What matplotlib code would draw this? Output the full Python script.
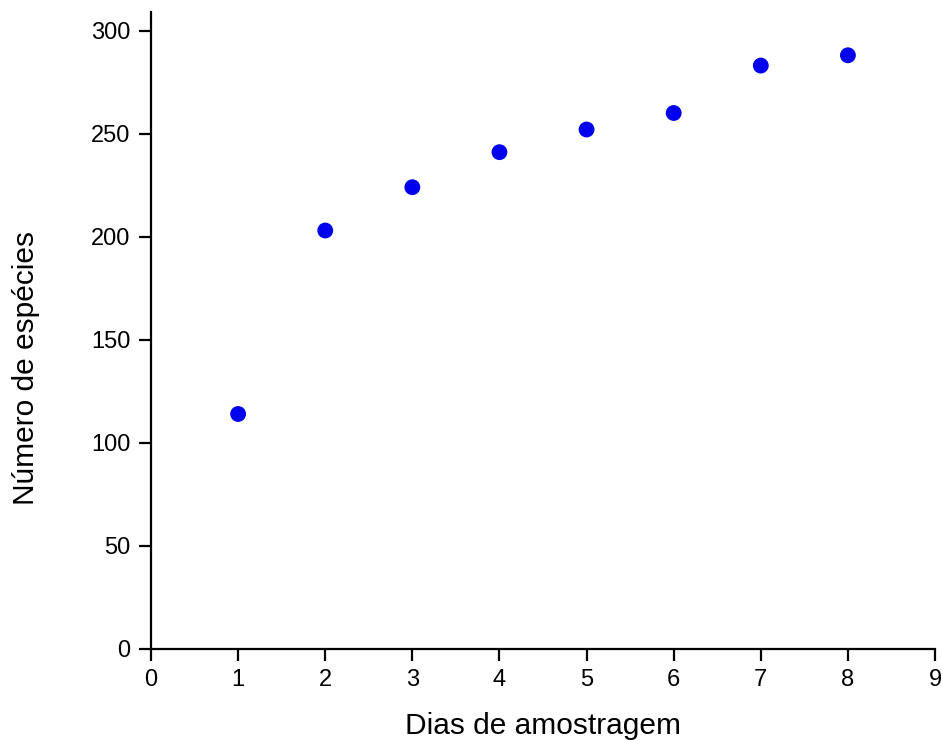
import matplotlib
matplotlib.use("Agg")
import matplotlib.pyplot as plt

dias = [1, 2, 3, 4, 5, 6, 7, 8]
especies = [114, 203, 224, 241, 252, 260, 283, 288]
xticks = [0, 1, 2, 3, 4, 5, 6, 7, 8, 9]
yticks = [0, 50, 100, 150, 200, 250, 300]

plt.rcParams['font.family'] = ['Liberation Sans', 'DejaVu Sans']

fig = plt.figure(figsize=(9.42, 7.40), dpi=100)
ax = fig.add_axes([0.1603, 0.123, 0.8323, 0.8608])
ax.scatter(dias, especies, s=130, color='#0000ee', edgecolors='none', zorder=3, clip_on=False)
ax.set_xlim(0, 9)
ax.set_ylim(0, 309)
ax.set_xticks(xticks)
ax.set_yticks(yticks)
ax.tick_params(direction='out', length=8.5, width=1.6, labelsize=17)
ax.tick_params(axis='y', pad=6.5)
ax.tick_params(axis='x', pad=6)
for s in ['top', 'right']:
    ax.spines[s].set_visible(False)
for s in ['left', 'bottom']:
    ax.spines[s].set_linewidth(1.6)
ax.set_xlabel('Dias de amostragem', fontsize=21.5, labelpad=15)
ax.set_ylabel('Número de espécies', fontsize=21.5)
ax.yaxis.set_label_coords(-0.141, 0.441)
fig.savefig('out.png', dpi=100)
